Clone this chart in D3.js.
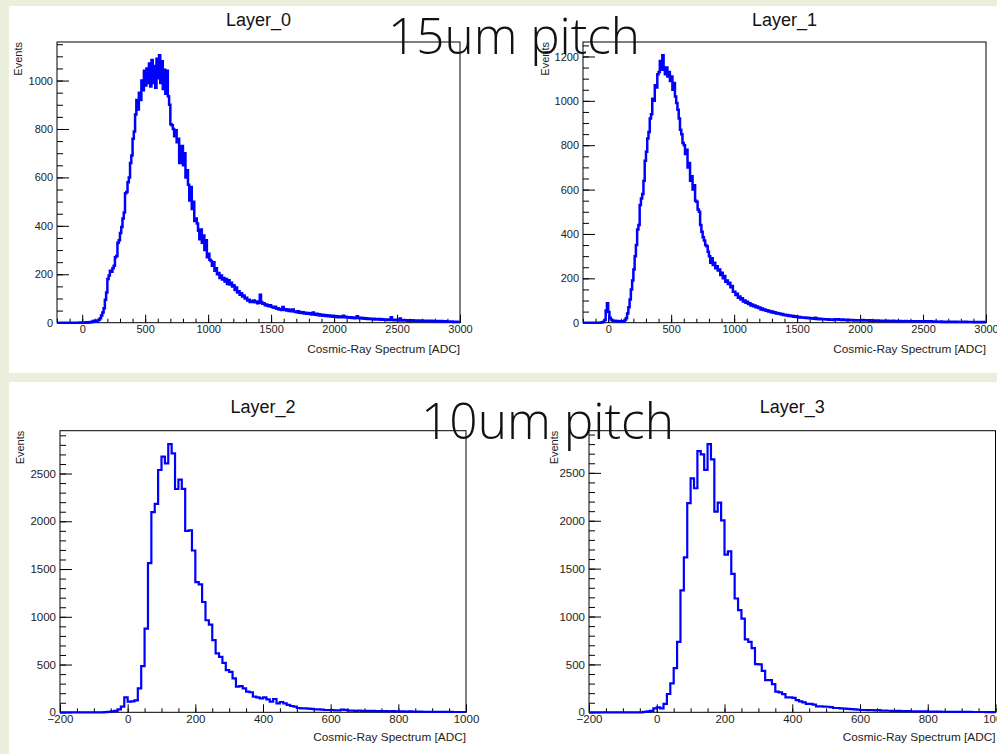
<!DOCTYPE html>
<html>
<head>
<meta charset="utf-8">
<script src="https://cdn.jsdelivr.net/npm/d3@7"></script>
<style>
  body { margin: 0; background: #eaefdb; }
  svg { display: block; }
</style>
</head>
<body>
<svg id="lienzo" width="997" height="754"></svg>
<script>
/***** Datos: cuentas por bin de 10 ADC *****/
// Layer_0 y Layer_1: bins de -200 a 3000
layer0Counts = [
  0,0,0,0,0,0,0,0,0,0,0,0,0,0,0,0,0,0,1,0,
  0,1,0,2,0,1,3,2,5,8,4,6,9,12,18,30,42,60,95,125,
  180,195,215,210,225,235,270,275,330,340,370,395,430,455,535,540,580,600,660,690,
  760,790,860,920,880,950,920,1000,960,1040,980,1050,990,1070,975,1085,990,1060,970,1090,
  1010,1104,990,1080,965,1045,945,1040,935,900,820,815,800,770,795,745,760,660,720,730,
  650,700,600,630,570,505,560,470,500,420,430,410,380,345,385,330,360,300,340,270,
  285,260,255,235,250,215,225,200,205,185,195,178,185,170,180,160,175,158,165,150,
  155,135,145,125,130,115,122,108,112,100,103,92,95,85,90,86,92,84,88,80,
  82,115,85,78,80,72,75,70,68,72,66,64,62,66,58,60,55,57,52,65,
  52,56,50,55,48,53,47,54,46,45,43,47,41,44,40,43,38,41,37,40,
  36,39,34,42,36,33,37,31,35,30,33,29,32,28,31,27,30,26,29,25,
  28,24,27,23,26,22,25,29,23,25,21,23,20,22,19,21,18,20,27,19,
  18,20,17,19,16,18,15,17,15,16,14,16,13,15,14,13,15,12,14,12,
  13,12,11,13,11,22,12,10,12,10,11,9,17,10,9,11,9,10,8,10,
  9,8,10,8,9,7,9,8,7,9,8,7,8,6,8,7,6,8,7,6,
  7,6,7,5,5,7,6,5,6,4,5,4,4,5,4,3,4,4,3,3
]
layer1Counts = [
  0,0,0,0,0,0,0,0,0,0,0,0,0,0,1,2,4,12,55,88,
  48,22,14,10,8,9,6,8,5,6,4,7,5,12,20,42,70,105,150,190,
  240,300,350,420,440,530,560,580,640,730,770,830,860,920,940,1010,1000,1070,1060,1120,
  1130,1180,1140,1205,1150,1120,1150,1110,1130,1090,1110,1050,1080,1020,990,960,920,870,850,810,
  800,760,780,700,720,640,660,600,620,550,545,510,500,440,410,385,370,350,345,320,
  300,270,290,260,270,245,255,235,240,215,225,200,210,185,190,175,180,160,165,140,
  140,125,130,112,118,105,110,96,100,90,94,84,88,78,82,74,77,70,73,66,
  68,60,64,57,60,54,56,50,53,47,50,45,47,42,44,40,42,37,39,35,
  36,33,35,30,32,29,31,27,29,26,27,24,26,23,24,22,23,21,22,20,
  21,19,20,18,22,17,19,16,18,15,17,15,16,14,15,13,14,13,14,12,
  15,14,15,13,14,12,14,12,13,11,13,11,12,11,12,10,11,10,11,10,
  11,10,12,10,11,10,11,9,11,9,10,9,10,9,10,8,9,8,9,8,
  9,8,9,8,8,7,9,7,8,7,8,7,8,7,7,6,8,6,7,6,
  7,6,7,6,7,6,6,5,7,6,6,5,6,5,6,5,6,5,5,5,
  5,4,4,4,5,3,4,4,3,4,4,3,4,3,4,3,3,4,3,3,
  3,4,3,3,4,3,3,3,3,3,2,3,3,2,3,3,2,3,2,3
]
// Layer_2 y Layer_3: bins de -200 a 1000
layer2Counts = [
  0,0,0,0,0,0,0,0,0,0,0,0,0,2,4,10,15,30,60,157,
  111,115,125,250,484,877,1562,2095,2182,2537,2676,2606,2808,2711,2338,2437,2340,1898,1905,1694,
  1364,1340,1155,964,918,755,616,581,518,442,424,355,268,275,250,216,210,164,157,146,
  157,136,111,139,94,108,94,77,66,59,45,42,42,38,36,31,31,28,24,24,
  24,21,21,28,26,17,17,15,17,14,15,14,14,12,13,12,12,11,12,10,
  9,10,8,9,8,7,7,6,6,5,5,6,5,4,4,4,3,3,3,3
]
layer3Counts = [
  0,0,0,0,0,0,0,0,0,0,0,0,0,0,0,0,4,10,15,42,
  52,40,87,191,301,461,735,1272,1618,2183,2443,2339,2727,2692,2530,2800,2640,2096,2190,2003,
  1646,1680,1445,1188,1067,977,762,735,669,502,500,433,336,336,295,215,208,190,156,156,
  150,128,114,104,87,87,80,62,62,60,58,55,45,45,42,38,35,33,30,28,
  24,24,22,24,20,22,18,17,16,15,14,14,13,12,12,11,10,10,9,9,
  8,8,7,7,6,6,6,5,5,5,4,4,4,3,3,3,3,2,2,2
]
binAncho = 10
rangoTop = [-200, 3000]
rangoBottom = [-200, 1000]

titulos = ['Layer_0', 'Layer_1', 'Layer_2', 'Layer_3']
pitchTextos = ['15um pitch', '10um pitch']
tituloX = 'Cosmic-Ray Spectrum [ADC]'
tituloY = 'Events'
ticksXTop = [0, 500, 1000, 1500, 2000, 2500, 3000]
ticksXBottom = [-200, 0, 200, 400, 600, 800, 1000]
ticksYTop = [0, 200, 400, 600, 800, 1000, 1200]
ticksYBottom = [0, 500, 1000, 1500, 2000, 2500]

/***** Lienzo y fondos blancos de la diapositiva *****/
svg = d3.select('#lienzo')
svg.append('rect').attr('x', 9).attr('y', 6).attr('width', 988).attr('height', 367).attr('fill', '#fff')
svg.append('rect').attr('x', 9).attr('y', 382).attr('width', 988).attr('height', 372).attr('fill', '#fff')

fuente = '"Liberation Sans", Arial, Helvetica, sans-serif'

paneles = [
  { titulo: titulos[0], counts: layer0Counts, rango: rangoTop, izq: 57, der: 460, sup: 42, inf: 322.7, grosor: 2.5,
    ticksX: ticksXTop, menorX: 100, ticksY: ticksYTop, menorY: 50, fs: 11, tituloY: 26, ejeY: 352.5, eventsX: 18 },
  { titulo: titulos[1], counts: layer1Counts, rango: rangoTop, izq: 583, der: 986, sup: 42, inf: 322.7, grosor: 2.5,
    ticksX: ticksXTop, menorX: 100, ticksY: ticksYTop, menorY: 50, fs: 11, tituloY: 26, ejeY: 352.5, eventsX: 544.5 },
  { titulo: titulos[2], counts: layer2Counts, rango: rangoBottom, izq: 60, der: 466, sup: 430.7, inf: 712.3, grosor: 2.2,
    ticksX: ticksXBottom, menorX: 50, ticksY: ticksYBottom, menorY: 100, fs: 11.5, tituloY: 412.5, ejeY: 741, eventsX: 20 },
  { titulo: titulos[3], counts: layer3Counts, rango: rangoBottom, izq: 589, der: 995.5, sup: 430.7, inf: 712.3, grosor: 2.2,
    ticksX: ticksXBottom, menorX: 50, ticksY: ticksYBottom, menorY: 100, fs: 11.5, tituloY: 412.5, ejeY: 741, eventsX: 554 }
]

function estiloEje(sel, fs) {
  sel.select('.domain').remove()
  sel.selectAll('line').attr('stroke', '#000').attr('stroke-width', 1)
  sel.selectAll('text').attr('fill', '#222').style('font-family', fuente).style('font-size', fs + 'px')
}

/***** Funcion para dibujar cada histograma *****/
function dibujarPanel(p, n) {
  x = d3.scaleLinear().domain(p.rango).range([p.izq, p.der])
  yMax = d3.max(p.counts) * 1.05
  y = d3.scaleLinear().domain([0, yMax]).range([p.inf, p.sup])

  g = svg.append('g')

  // ticks menores y mayores en X (hacia adentro)
  g.append('g').attr('transform', `translate(0, ${ p.inf })`)
    .call(d3.axisBottom(x).tickValues(d3.range(p.rango[0], p.rango[1] + 1, p.menorX)).tickSize(-4).tickFormat(''))
    .call(s => estiloEje(s, p.fs))
  g.append('g').attr('transform', `translate(0, ${ p.inf })`)
    .call(d3.axisBottom(x).tickValues(p.ticksX).tickSize(-8).tickPadding(3).tickFormat(d3.format('d')))
    .call(s => estiloEje(s, p.fs))

  // ticks en Y
  g.append('g').attr('transform', `translate(${ p.izq }, 0)`)
    .call(d3.axisLeft(y).tickValues(d3.range(0, yMax, p.menorY)).tickSize(-6).tickFormat(''))
    .call(s => estiloEje(s, p.fs))
  g.append('g').attr('transform', `translate(${ p.izq }, 0)`)
    .call(d3.axisLeft(y).tickValues(p.ticksY.filter(v => v <= yMax)).tickSize(-12).tickPadding(4).tickFormat(d3.format('d')))
    .call(s => estiloEje(s, p.fs))

  // marco
  g.append('rect').attr('x', p.izq).attr('y', p.sup)
    .attr('width', p.der - p.izq).attr('height', p.inf - p.sup)
    .attr('fill', 'none').attr('stroke', '#000').attr('stroke-width', 1)

  // histograma
  puntos = p.counts.map((c, i) => [p.rango[0] + i * binAncho, c])
  puntos.push([p.rango[0] + p.counts.length * binAncho, p.counts[p.counts.length - 1]])
  g.append('clipPath').attr('id', 'clip' + n)
    .append('rect').attr('x', p.izq).attr('y', p.sup - 2).attr('width', p.der - p.izq).attr('height', p.inf - p.sup + 4)
  g.append('path')
    .datum(puntos)
    .attr('clip-path', `url(#clip${ n })`)
    .attr('fill', 'none')
    .attr('stroke', '#0000ff')
    .attr('stroke-width', p.grosor)
    .attr('d', d3.line().x(d => x(d[0])).y(d => y(d[1])).curve(d3.curveStepAfter))

  // titulos
  g.append('text').attr('x', (p.izq + p.der) / 2).attr('y', p.tituloY)
    .attr('text-anchor', 'middle').style('font-family', fuente).style('font-size', '18px').attr('fill', '#111')
    .text(p.titulo)
  g.append('text').attr('x', p.der).attr('y', p.ejeY)
    .attr('text-anchor', 'end').style('font-family', fuente).style('font-size', '11.8px').attr('fill', '#222')
    .text(tituloX)
  g.append('text').attr('transform', `translate(${ p.eventsX + 4 }, ${ p.sup }) rotate(-90)`)
    .attr('text-anchor', 'end').style('font-family', fuente).style('font-size', '11px').attr('fill', '#222')
    .text(tituloY)
}

paneles.forEach((p, i) => dibujarPanel(p, i))

/***** Textos grandes de la diapositiva *****/
svg.append('text').attr('x', 388).attr('y', 54)
  .style('font-family', '"Open Sans", "DejaVu Sans", sans-serif').style('font-weight', 300).style('font-size', '50px')
  .attr('textLength', 252).attr('lengthAdjust', 'spacingAndGlyphs').attr('fill', '#111')
  .text(pitchTextos[0])
svg.append('text').attr('x', 421).attr('y', 439)
  .style('font-family', '"Open Sans", "DejaVu Sans", sans-serif').style('font-weight', 300).style('font-size', '50px')
  .attr('textLength', 253).attr('lengthAdjust', 'spacingAndGlyphs').attr('fill', '#111')
  .text(pitchTextos[1])
</script>
</body>
</html>
